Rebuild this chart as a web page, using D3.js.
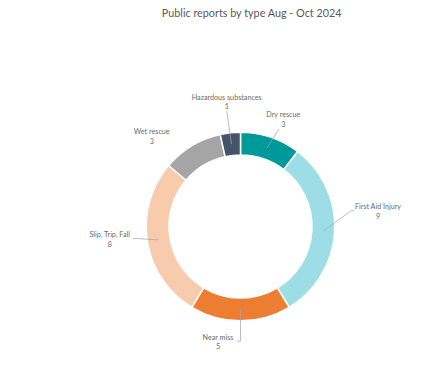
<!DOCTYPE html>
<html>
<head>
<meta charset="utf-8">
<script src="https://cdn.jsdelivr.net/npm/d3@7"></script>
<style>
  html, body { margin: 0; padding: 0; background: #fff; }
  svg { display: block; }
  text { font-family: Lato, "Open Sans", sans-serif; fill: #595959; }
</style>
</head>
<body>
<svg id="chart" width="421" height="379"></svg>
<script>
// ---- data ----
const categories = ["Dry rescue", "First Aid Injury", "Near miss", "Slip, Trip, Fall", "Wet rescue", "Hazardous substances"];
const values = [3, 9, 5, 8, 3, 1];
const colors = ["#00999A", "#9CDDE6", "#ED7D31", "#F8CBAD", "#A5A5A5", "#44546A"];
const title = "Public reports by type Aug - Oct 2024";

// ---- layout ----
const W = 421, H = 379;
const cx = 240.5, cy = 226.5, rOuter = 94.3, rInner = 71.5;
// label centre offsets from pie centre, and leader line start points (offsets)
const labelLayout = [
  { dx: 42.8, dy: -111.8, lead: [[38.5, -97.5]] },
  { dx: 137.5, dy: -19.8, lead: [[113, -16], [111, -16]] },
  { dx: -22.5, dy: 110.8, lead: [[-3.8, 114.5], [0, 114.5]] },
  { dx: -130.8, dy: 8, lead: [[-107.8, 11.8]] },
  { dx: -88.8, dy: -94.8, lead: null },
  { dx: -13.8, dy: -129.2, lead: [[-13.8, -115.8]] }
];

const svg = d3.select("#chart");
svg.append("rect").attr("width", W).attr("height", H).attr("fill", "#fff");

svg.append("text")
  .attr("x", 251.7).attr("y", 12.5)
  .attr("text-anchor", "middle").attr("dominant-baseline", "central")
  .style("font-size", "10.8px")
  .style("fill", "#595959")
  .text(title);

const data = categories.map((c, i) => ({ cat: c, value: values[i], color: colors[i], i }));
const pie = d3.pie().value(d => d.value).sort(null);
const arcs = pie(data);
const arc = d3.arc().innerRadius(rInner).outerRadius(rOuter);

const g = svg.append("g").attr("transform", `translate(${cx},${cy})`);
g.selectAll("path.slice").data(arcs).join("path")
  .attr("class", "slice")
  .attr("d", arc)
  .attr("fill", d => d.data.color)
  .attr("stroke", "#fff").attr("stroke-width", 1.5);

// leader lines
const line = d3.line();
arcs.forEach((a, i) => {
  const L = labelLayout[i];
  if (!L.lead) return;
  const pts = L.lead.concat([arc.centroid(a)]);
  g.append("path").attr("d", line(pts))
    .attr("fill", "none").attr("stroke", "#A6A6A6").attr("stroke-width", 0.75);
});

// labels
arcs.forEach((a, i) => {
  const L = labelLayout[i];
  const t = g.append("text")
    .attr("text-anchor", "middle")
    .style("font-size", "7.2px")
    .style("fill", "#6b6b6b");
  t.append("tspan").attr("x", L.dx).attr("y", L.dy).attr("dominant-baseline", "central").text(a.data.cat);
  t.append("tspan").attr("x", L.dx).attr("y", L.dy + 9.5).attr("dominant-baseline", "central").text(a.data.value);
});
</script>
</body>
</html>
